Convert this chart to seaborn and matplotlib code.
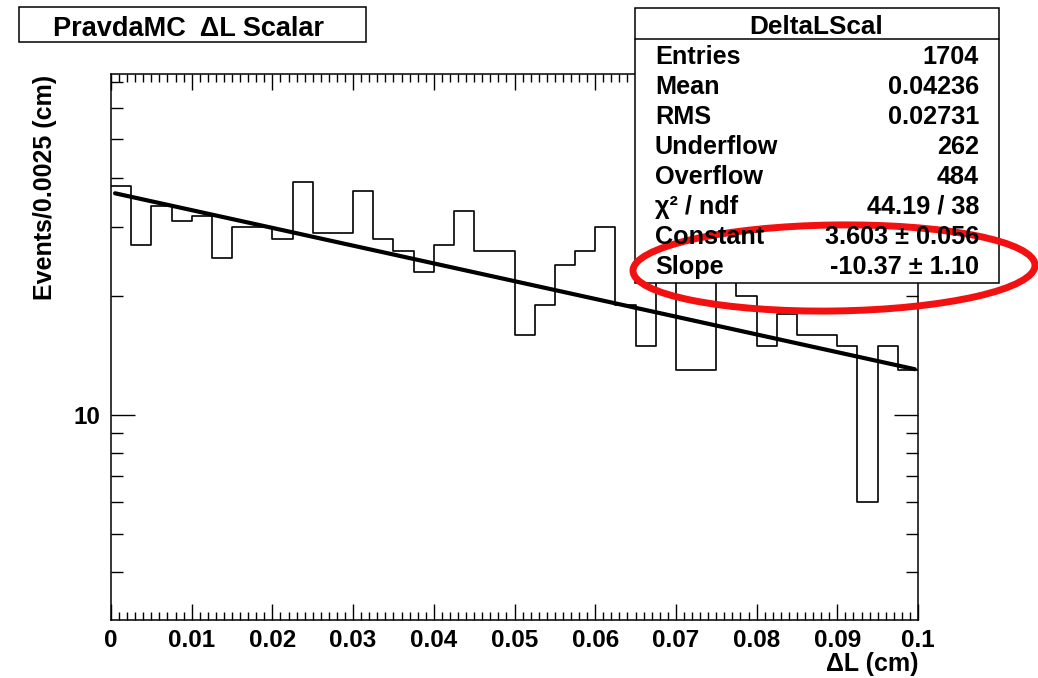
import numpy as np
import pandas as pd
import matplotlib
matplotlib.use("Agg")
import matplotlib.pyplot as plt
from matplotlib.patches import Rectangle, Ellipse
from matplotlib.ticker import FixedLocator, FixedFormatter, NullFormatter, MultipleLocator
import seaborn as sns

# Histogram contents: 40 bins of 0.0025 cm between 0 and 0.1 cm
bin_lo = 0.0
bin_hi = 0.1
n_bins = 40
counts = [38, 27, 34, 31, 32, 25, 30, 30, 28, 39,
          29, 29, 37, 28, 26, 23, 27, 33, 26, 26,
          16, 19, 24, 26, 30, 19, 15, 26, 13, 13,
          25, 20, 15, 18, 16, 16, 15, 6, 15, 13]

# Exponential fit: exp(constant + slope * x)
fit_constant = 3.603
fit_slope = -10.37
fit_range = [0.0005, 0.0996]

# Statistics box
stats_title = "DeltaLScal"
stat_names = ["Entries", "Mean", "RMS", "Underflow", "Overflow",
              "χ² / ndf", "Constant", "Slope"]
stat_values = ["1704", "0.04236", "0.02731", "262", "484",
               "44.19 / 38", "3.603 ± 0.056", "-10.37 ± 1.10"]

plot_title = "PravdaMC  ΔL Scalar"
x_title = "ΔL (cm)"
y_title = "Events/0.0025 (cm)"

x_ticks = [0.0, 0.01, 0.02, 0.03, 0.04, 0.05, 0.06, 0.07, 0.08, 0.09, 0.1]
x_tick_labels = ["0", "0.01", "0.02", "0.03", "0.04", "0.05",
                 "0.06", "0.07", "0.08", "0.09", "0.1"]
y_major_ticks = [10]
y_major_labels = ["10"]
y_minor_ticks = [4, 5, 6, 7, 8, 9, 20, 30, 40, 50, 60, 70]
y_range = [3.02, 73.3]

sns.set_style("ticks")
plt.rcParams["font.family"] = ["Liberation Sans", "DejaVu Sans"]
plt.rcParams["font.weight"] = "bold"
plt.rcParams["text.color"] = "black"
plt.rcParams["xtick.color"] = "black"
plt.rcParams["ytick.color"] = "black"
plt.rcParams["xtick.labelcolor"] = "black"
plt.rcParams["ytick.labelcolor"] = "black"
plt.rcParams["axes.labelcolor"] = "black"

W, H = 1038, 678
fig = plt.figure(figsize=(W / 100, H / 100), dpi=100)
fig.patch.set_facecolor("white")

# main frame in pixel layout
ax_l, ax_r, ax_t, ax_b = 111, 918, 74, 620
ax = fig.add_axes([ax_l / W, 1 - ax_b / H, (ax_r - ax_l) / W, (ax_b - ax_t) / H])

bin_width = (bin_hi - bin_lo) / n_bins
hist_df = pd.DataFrame({
    "dl": bin_lo + bin_width * (np.arange(n_bins) + 0.5),
    "events": np.asarray(counts, dtype=float),
})

sns.histplot(data=hist_df, x="dl", weights="events", bins=n_bins,
             binrange=(bin_lo, bin_hi), element="step", fill=False,
             color="black", linewidth=1.2, ax=ax)
ax.set_yscale("log")

xfit = np.linspace(fit_range[0], fit_range[1], 200)
fit_df = pd.DataFrame({"dl": xfit,
                       "events": np.exp(fit_constant + fit_slope * xfit)})
sns.lineplot(data=fit_df, x="dl", y="events", color="black", linewidth=3.0,
             ax=ax, legend=False)

ax.set_xlim(bin_lo, bin_hi)
ax.set_ylim(*y_range)
ax.set_xlabel("")
ax.set_ylabel("")

ax.xaxis.set_major_locator(FixedLocator(x_ticks))
ax.xaxis.set_major_formatter(FixedFormatter(x_tick_labels))
ax.xaxis.set_minor_locator(MultipleLocator(0.001))
ax.xaxis.set_minor_formatter(NullFormatter())
ax.yaxis.set_major_locator(FixedLocator(y_major_ticks))
ax.yaxis.set_major_formatter(FixedFormatter(y_major_labels))
ax.yaxis.set_minor_locator(FixedLocator(y_minor_ticks))
ax.yaxis.set_minor_formatter(NullFormatter())

ax.tick_params(which="both", direction="in", top=True, right=True,
               color="black", labelcolor="black", width=1.0)
ax.tick_params(axis="x", which="major", length=11.5, pad=6.5, labelsize=17.5)
ax.tick_params(axis="x", which="minor", length=5.8)
ax.tick_params(axis="y", which="major", length=17.3, pad=8, labelsize=17.5)
ax.tick_params(axis="y", which="minor", length=8.6)
for s in ax.spines.values():
    s.set_visible(True)
    s.set_linewidth(1.1)
    s.set_color("black")

# overlay in pixel coordinates for the boxes and titles
ov = fig.add_axes([0, 0, 1, 1], zorder=10)
ov.set_xlim(0, W)
ov.set_ylim(H, 0)
ov.axis("off")
ov.patch.set_alpha(0)

# title box
ov.add_patch(Rectangle((19, 7), 347, 35, facecolor="white",
                       edgecolor="black", linewidth=1.1))
ov.text(188.5, 36.5, plot_title, ha="center", va="baseline",
        fontsize=19.5, fontweight="bold", color="black")

# statistics box
sb_l, sb_r, sb_t, sb_b = 635, 999, 8, 283
ov.add_patch(Rectangle((sb_l, sb_t), sb_r - sb_l, sb_b - sb_t,
                       facecolor="white", edgecolor="black", linewidth=1.1))
ov.plot([sb_l, sb_r], [39, 39], color="black", linewidth=1.1)
ov.text(816, 34, stats_title, ha="center", va="baseline",
        fontsize=18.8, fontweight="bold", color="black")
for i, (name, val) in enumerate(zip(stat_names, stat_values)):
    yb = 64 + 30.0 * i
    ov.text(655, yb, name, ha="left", va="baseline", fontsize=18.2,
            fontweight="bold", color="black")
    ov.text(979, yb, val, ha="right", va="baseline", fontsize=18.2,
            fontweight="bold", color="black")

# axis titles
ov.text(918, 671, x_title, ha="right", va="baseline", fontsize=18,
        fontweight="bold", color="black")
ov.text(45, 75, y_title, ha="center", va="top", rotation=90, fontsize=18,
        fontweight="bold", color="black")

# hand-drawn highlight around the fit parameters
ov.add_patch(Ellipse((834, 268), 402, 86, angle=-0.8, fill=False,
                     edgecolor="#f21010", linewidth=5))

fig.savefig("out.png", dpi=100, facecolor="white")
